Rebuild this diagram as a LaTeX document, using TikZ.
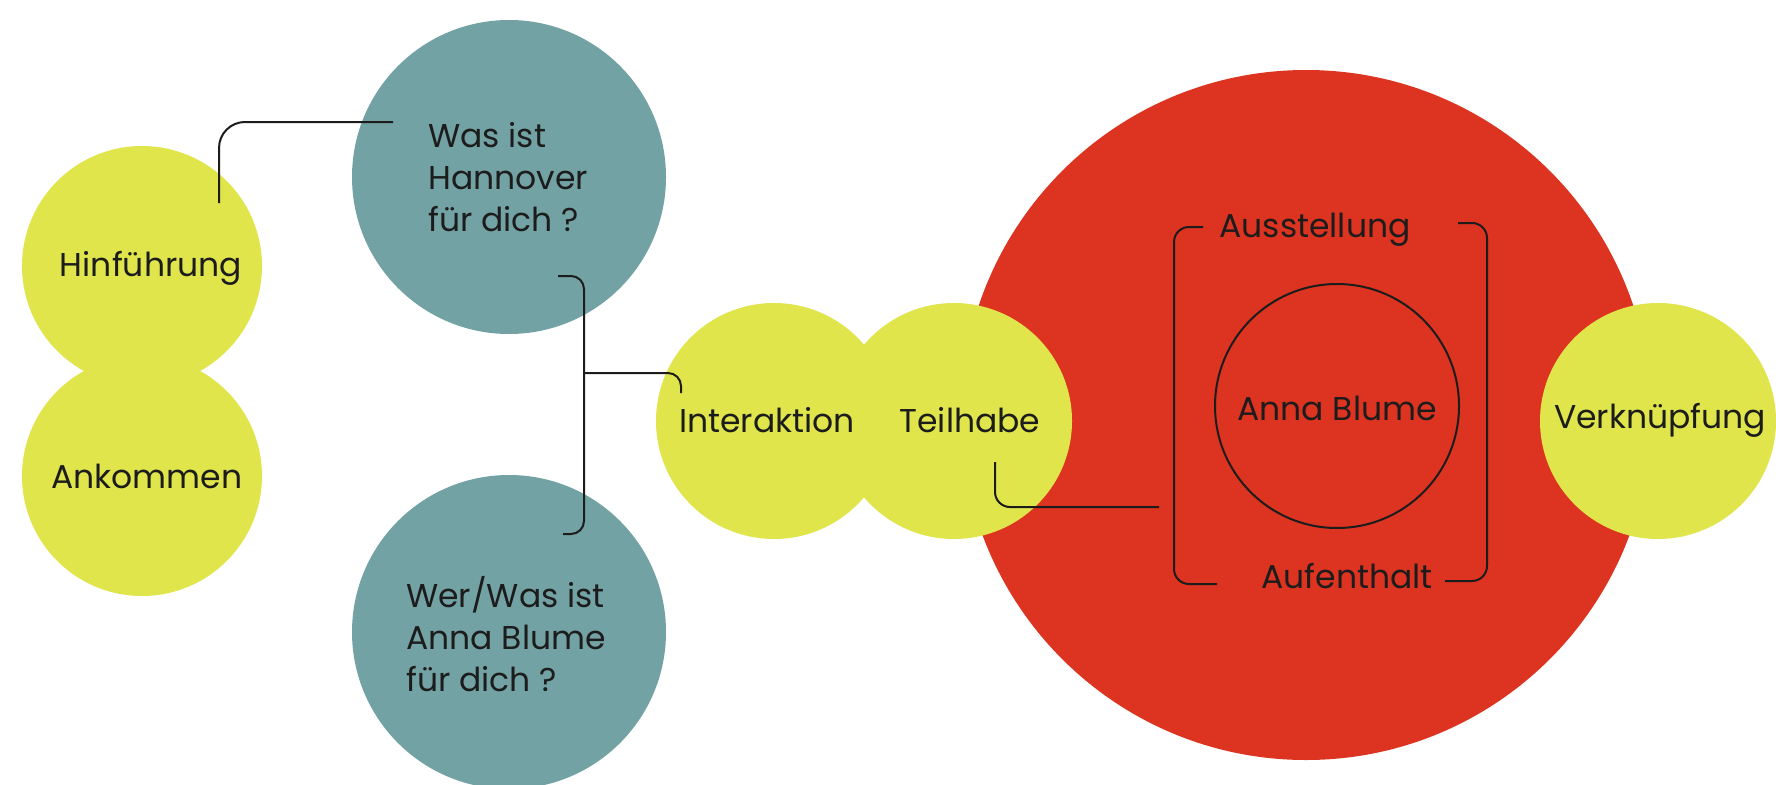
\documentclass[tikz,border=0pt]{standalone}
\usepackage{fontspec}
\setmainfont{Poppins}
\definecolor{limeC}{RGB}{223,229,74}
\definecolor{tealC}{RGB}{115,162,164}
\definecolor{redC}{RGB}{220,52,33}
\definecolor{inkC}{RGB}{28,28,28}
\begin{document}
\begin{tikzpicture}[x=1pt,y=-1pt,
  blob/.style={circle,inner sep=0pt,draw=none},
  lime/.style={blob,fill=limeC},
  tealb/.style={blob,fill=tealC},
  txt/.style={font=\fontsize{33}{42}\selectfont,text=inkC,inner sep=0pt},
  conn/.style={draw=inkC,line width=2pt}]
\useasboundingbox (0,0) rectangle (1776,784);
% big red circle
\node[blob,fill=redC,minimum size=690pt] (big) at (1306,415) {};
% yellow circles
\node[lime,minimum size=240pt] (hin) at (142,266) {};
\node[lime,minimum size=240pt] (ank) at (142,476) {};
\node[lime,minimum size=236pt] (int) at (774,421) {};
\node[lime,minimum size=236pt] (teil) at (954,421) {};
\node[lime,minimum size=236pt] (verk) at (1658,421) {};
% teal circles
\node[tealb,minimum size=314pt] (han) at (509,177) {};
\node[tealb,minimum size=314pt] (wer) at (509,632) {};
% inner circle
\node[circle,draw=inkC,line width=2pt,minimum size=244pt,inner sep=0pt] (anna) at (1337,406) {};
% texts
\node[txt] (tHin) at (151,268) {Hinführung};
\node[txt] (tAnk) at (147,476) {Ankommen};
\node[txt,anchor=west,align=left] (tHan) at (428,177) {Was ist\\Hannover\\für dich ?};
\node[txt,anchor=west,align=left] (tWer) at (406,634) {Wer/Was ist\\Anna Blume\\für dich ?};
\node[txt] (tInt) at (767,420) {Interaktion};
\node[txt] (tTeil) at (970,420) {Teilhabe};
\node[txt] (tAnna) at (1337,408) {Anna Blume};
\node[txt] (tAus) at (1315,230) {Ausstellung};
\node[txt] (tAuf) at (1347,576) {Aufenthalt};
\node[txt] (tVerk) at (1660,420) {Verknüpfung};
% connector coordinates
\coordinate (h1) at (219,203);
\coordinate (h2) at (393,122);
\coordinate (b1) at (558,276);
\coordinate (bm) at (584,400);
\coordinate (b2) at (563,534);
\coordinate (bj) at (584,373);
\coordinate (i1) at (681,393);
\coordinate (t1) at (995,462);
\coordinate (t2) at (1159,507);
\coordinate (l1) at (1203,227);
\coordinate (lm) at (1174,400);
\coordinate (l2) at (1217,584);
\coordinate (r1) at (1458,223);
\coordinate (rm) at (1487,400);
\coordinate (r2) at (1445,581);
% connectors
\draw[conn,rounded corners=26pt] (h1) |- (h2);
\draw[conn,rounded corners=13pt] (b1) -| (bm) |- (b2);
\draw[conn,rounded corners=13pt] (bj) -| (i1);
\draw[conn,rounded corners=15pt] (t1) |- (t2);
\draw[conn,rounded corners=15pt] (l1) -| (lm) |- (l2);
\draw[conn,rounded corners=15pt] (r1) -| (rm) |- (r2);
\end{tikzpicture}
\end{document}
